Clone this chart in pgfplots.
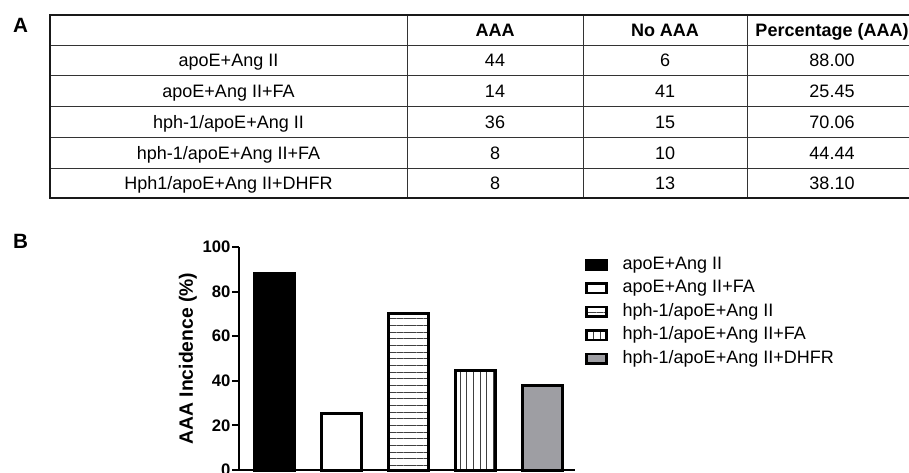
\documentclass[border=0pt]{standalone}
\usepackage{fontspec}
\setmainfont{Liberation Sans}
\usepackage{pgfplots}
\pgfplotsset{compat=1.18}
\usetikzlibrary{patterns.meta}
\definecolor{barGray}{HTML}{9E9EA3}
\newcommand\tf{\fontsize{13.5}{16}\selectfont}
\begin{document}
\begin{tikzpicture}
\path[use as bounding box] (0,0) rectangle (681.75pt,-354pt);
\begin{scope}[x=0.75pt,y=-0.75pt]
  \draw[line width=0.75pt, black!80]
    (50,45)--(909,45) (50,75)--(909,75) (50,106)--(909,106)
    (50,137)--(909,137) (50,168)--(909,168);
  \draw[line width=0.75pt, black!80]
    (407,15)--(407,198) (583,15)--(583,198) (747,15)--(747,198);
  \draw[line width=1.5pt, black!90] (909,15) -- (50,15) -- (50,198) -- (909,198);
  \node[font=\fontsize{15.5}{18}\selectfont\bfseries, anchor=base, inner sep=0] at (20.5,32) {A};
  \node[font=\fontsize{15.5}{18}\selectfont\bfseries, anchor=base, inner sep=0] at (20.5,248) {B};
  % header
  \node[font=\tf\bfseries, anchor=base, inner sep=0] at (495,36.5) {AAA};
  \node[font=\tf\bfseries, anchor=base, inner sep=0] at (665,36.5) {No AAA};
  \node[font=\tf\bfseries, anchor=base, inner sep=0] at (832,36.5) {Percentage (AAA)};
  % rows
  \foreach \y/\a/\b/\c/\d in {66.5/apoE+Ang II/44/6/88.00,
                               97/apoE+Ang II+FA/14/41/25.45,
                               128.5/hph-1\slash apoE+Ang II/36/15/70.06,
                               159.5/hph-1\slash apoE+Ang II+FA/8/10/44.44,
                               189.5/Hph1\slash apoE+Ang II+DHFR/8/13/38.10}{
    \node[font=\tf, anchor=base, inner sep=0] at (228.5,\y) {\a};
    \node[font=\tf, anchor=base, inner sep=0] at (495,\y) {\b};
    \node[font=\tf, anchor=base, inner sep=0] at (665,\y) {\c};
    \node[font=\tf, anchor=base, inner sep=0] at (832,\y) {\d};
  }
\end{scope}
\begin{axis}[
  at={(179.25pt,-352.5pt)}, anchor=south west,
  scale only axis, width=252pt, height=167.25pt,
  xmin=-0.533, xmax=4.485, ymin=0, ymax=100,
  axis lines=left,
  axis line style={-, line width=1.5pt, black},
  xtick=\empty,
  ytick={0,20,40,60,80,100},
  tick style={line width=1.5pt, black},
  major tick length=5.25pt, tick align=outside,
  /pgf/number format/assume math mode=true,
  yticklabel style={font=\fontsize{12.5}{13}\selectfont\bfseries, inner sep=1pt},
  ylabel={AAA Incidence (\%)},
  ylabel style={font=\fontsize{14.5}{15}\selectfont\bfseries,
                at={(axis description cs:-0.152,0.5)}, anchor=center},
  clip=false,
  legend style={at={(1.03,0.96)}, anchor=north west, draw=none, fill=none,
                inner sep=0pt, font=\fontsize{13.5}{16}\selectfont,
                nodes={inner sep=0pt, text height=9.8pt, text depth=3.2pt},
                row sep=4.6pt, column sep=11pt},
  legend cell align=left,
  legend image code/.code={\draw[#1, line width=2pt] (0pt,-3.6pt) rectangle (15pt,3.6pt);},
]
\addplot[ybar, bar width=30pt, bar shift=0pt, draw=black, line width=2.25pt, fill=black]
  coordinates {(0,88.00)};
\addlegendentry{apoE+Ang II}
\addplot[ybar, bar width=30pt, bar shift=0pt, draw=black, line width=2.25pt, fill=white]
  coordinates {(1,25.45)};
\addlegendentry{apoE+Ang II+FA}
\addplot[ybar, bar width=30pt, bar shift=0pt, draw=black, line width=2.25pt,
  pattern={Lines[angle=0, distance=5pt, line width=0.7pt]}, pattern color=black!75]
  coordinates {(2,70.06)};
\addlegendentry{hph-1/apoE+Ang II}
\addplot[ybar, bar width=30pt, bar shift=0pt, draw=black, line width=2.25pt,
  pattern={Lines[angle=90, distance=5pt, line width=0.7pt]}, pattern color=black!75]
  coordinates {(3,44.44)};
\addlegendentry{hph-1/apoE+Ang II+FA}
\addplot[ybar, bar width=30pt, bar shift=0pt, draw=black, line width=2.25pt, fill=barGray]
  coordinates {(4,38.10)};
\addlegendentry{hph-1/apoE+Ang II+DHFR}
\end{axis}
\end{tikzpicture}
\end{document}
